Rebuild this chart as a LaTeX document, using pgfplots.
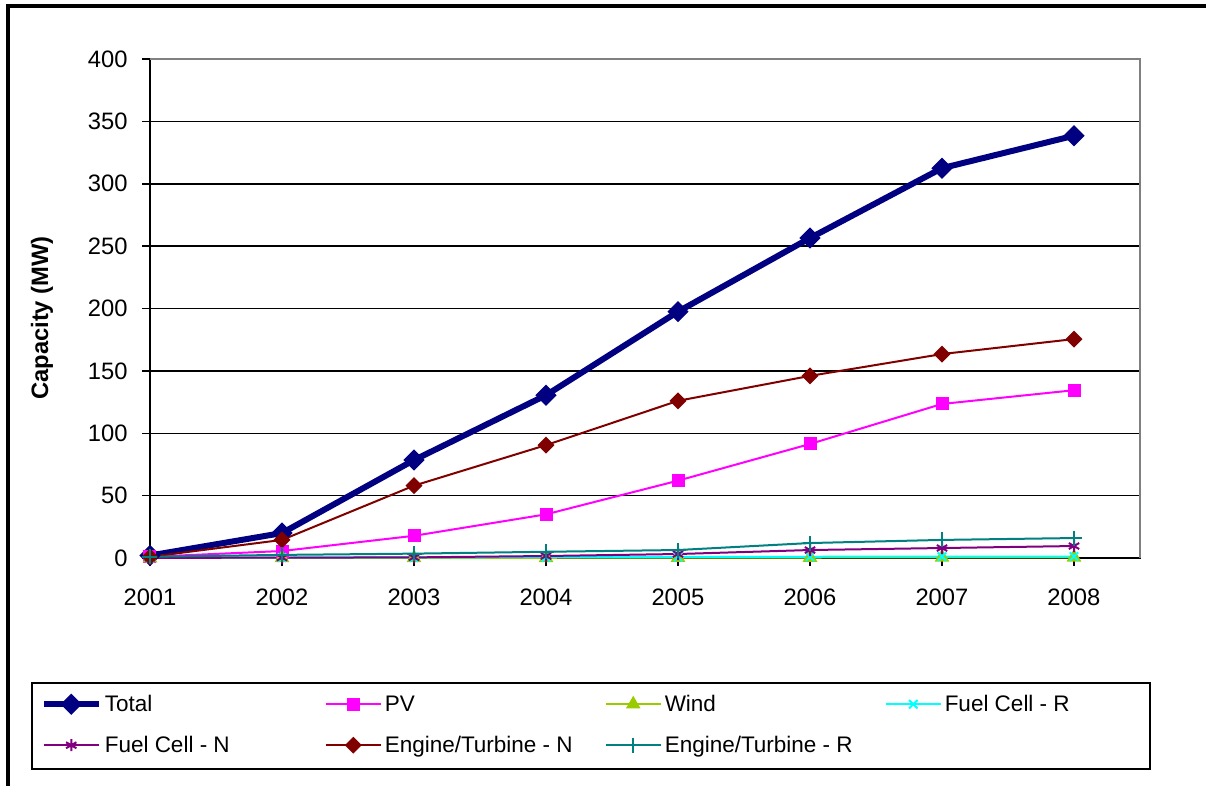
\documentclass[border=0pt]{standalone}
\usepackage{pgfplots}
\pgfplotsset{compat=1.18}
\usepackage{fontspec}
\setmainfont{Liberation Sans}

\definecolor{cTotal}{RGB}{0,0,128}
\definecolor{cPV}{RGB}{255,0,255}
\definecolor{cWind}{RGB}{153,204,0}
\definecolor{cFCR}{RGB}{0,255,255}
\definecolor{cFCN}{RGB}{128,0,128}
\definecolor{cETN}{RGB}{128,0,0}
\definecolor{cETR}{RGB}{0,128,128}
\definecolor{frameGray}{RGB}{128,128,128}

\newcommand{\entry}[2][86.8pt]{\makebox[#1][l]{#2}}

\begin{document}
\begin{tikzpicture}
\path[use as bounding box] (0pt,0pt) rectangle (482.4pt,314.4pt);
% outer frame (left and top edges)
\draw[line width=1.6pt] (3.2pt,0pt) -- (3.2pt,312pt) -- (482.4pt,312pt);

\begin{axis}[
  at={(60pt,91.2pt)}, anchor=south west,
  scale only axis, width=396pt, height=199.6pt,
  xmin=2001, xmax=2008.5, ymin=0, ymax=400,
  xtick={2001,...,2008}, ytick={0,50,...,400},
  xticklabel style={/pgf/number format/1000 sep={}},
  /pgf/number format/assume math mode=true,
  tick label style={font=\fontsize{9.5}{11}\selectfont},
  xticklabel style={inner sep=0pt, anchor=north, yshift=-9pt},
  yticklabel style={inner sep=0pt, anchor=east, xshift=-5.6pt},
  tick pos=left, tick align=outside, major tick length=3.2pt,
  tick style={black, line width=0.6pt},
  ymajorgrids, major grid style={black, line width=0.6pt},
  axis line style={black, line width=0.6pt},
  ylabel={Capacity (MW)},
  ylabel style={font=\fontsize{9.5}{11}\selectfont\bfseries,
    at={(axis description cs:-0.1091,0.481)}, anchor=center},
  legend columns=4,
  legend style={at={(axis description cs:-0.1202,-0.4248)}, anchor=south west,
    draw=black, line width=0.6pt, fill=white,
    inner xsep=3.6pt, inner ysep=0.8pt, row sep=0pt,
    font=\fontsize{9}{11}\selectfont,
    nodes={inner xsep=1.2pt, inner ysep=4pt, text height=6.5pt, text depth=1.9pt, yshift=-0.6pt},
    /tikz/every even column/.append style={column sep=0pt}},
  legend cell align=left,
  legend image code/.code={\draw[mark repeat=2,mark phase=2]
    plot coordinates {(0pt,0pt) (11pt,0pt) (22pt,0pt)};},
  clip=false,
  after end axis/.code={
    \draw[frameGray, line width=0.6pt] (rel axis cs:0,1) -- (rel axis cs:1,1) -- (rel axis cs:1,0);
  },
]

\addplot[cTotal, line width=2.4pt, mark=square*, mark size=2.8pt,
  mark options={rotate=45, solid, line width=0.4pt}]
  coordinates {(2001,2) (2002,20) (2003,78.5) (2004,130.5) (2005,197.5) (2006,256.5) (2007,312.5) (2008,338.5)};
\addlegendentry{\entry{Total}}

\addplot[cPV, line width=0.8pt, mark=square*, mark size=2.2pt, mark options={solid}]
  coordinates {(2001,1) (2002,5.6) (2003,17.8) (2004,35) (2005,62) (2006,91.4) (2007,123.5) (2008,134.5)};
\addlegendentry{\entry{PV}}

\addplot[cWind, line width=0.8pt, mark=triangle*, mark size=2.6pt, mark options={solid}]
  coordinates {(2001,0) (2002,0.1) (2003,0.1) (2004,0.2) (2005,0.3) (2006,0.4) (2007,0.5) (2008,0.6)};
\addlegendentry{\entry{Wind}}

\addplot[cFCR, line width=0.8pt, mark=x, mark size=2.4pt, mark options={solid, line width=0.8pt}]
  coordinates {(2001,0.2) (2002,0.4) (2003,0.5) (2004,0.7) (2005,0.8) (2006,1.0) (2007,1.1) (2008,1.2)};
\addlegendentry{\entry[77.3pt]{Fuel Cell - R}}

\addplot[cFCN, line width=0.8pt, mark=asterisk, mark size=2.4pt, mark options={solid, line width=0.8pt}]
  coordinates {(2001,0.1) (2002,0.3) (2003,0.5) (2004,1.6) (2005,3.2) (2006,6.4) (2007,8) (2008,9.6)};
\addlegendentry{\entry{Fuel Cell - N}}

\addplot[cETN, line width=0.8pt, mark=square*, mark size=2pt,
  mark options={rotate=45, solid}]
  coordinates {(2001,1) (2002,14.5) (2003,58) (2004,90.5) (2005,126) (2006,146) (2007,163.5) (2008,175.5)};
\addlegendentry{\entry{Engine/Turbine - N}}

\addplot[cETR, line width=0.8pt, mark=+, mark size=3pt, mark options={solid, line width=0.8pt}]
  coordinates {(2001,1) (2002,2.5) (2003,3.5) (2004,5) (2005,6.4) (2006,12) (2007,14.5) (2008,16)};
\addlegendentry{\entry{Engine/Turbine - R}}

\end{axis}
\end{tikzpicture}
\end{document}
